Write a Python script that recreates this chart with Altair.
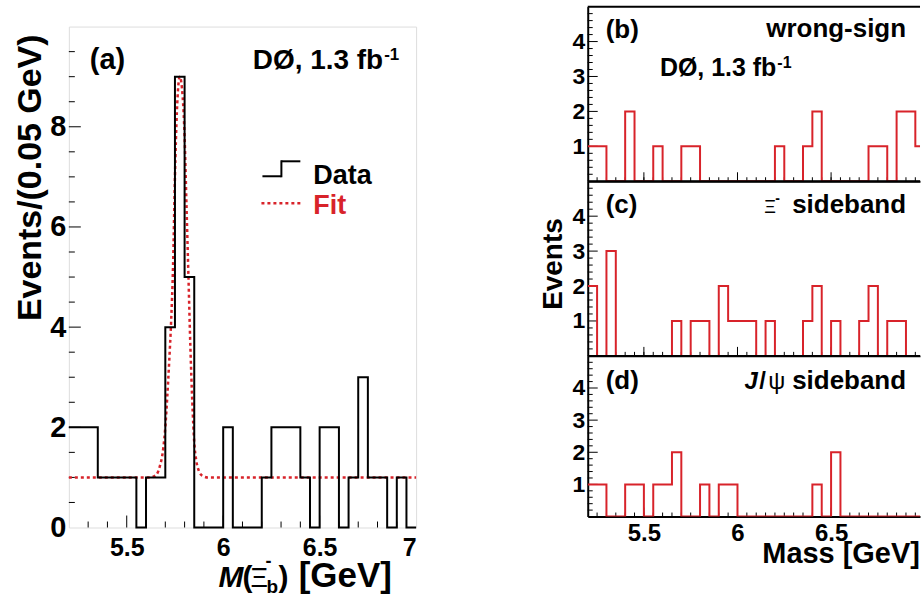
import altair as alt
import numpy as np
import pandas as pd

FONT = "Liberation Sans"
RED = "#d8232a"

# ---------------- data ----------------
bin_edges = [round(5.20 + 0.05 * i, 2) for i in range(37)]  # 5.20 ... 7.00

# (a) signal-region data, events per 0.05 GeV bin
counts_data = [2, 2, 2, 1, 1, 1, 1, 0, 1, 1, 4, 9, 5, 0, 0, 0, 2, 0,
               0, 0, 1, 2, 2, 2, 1, 0, 2, 2, 0, 1, 3, 1, 1, 0, 1, 0]
# fit curve
fit_mass = [5.20, 5.62, 5.65, 5.67, 5.69, 5.70, 5.71, 5.72, 5.73, 5.74, 5.75, 5.76,
            5.775, 5.79, 5.80, 5.81, 5.82, 5.83, 5.84, 5.85, 5.86, 5.875, 5.89, 5.92, 7.00]
fit_events = [1.0, 1.0, 1.04, 1.2, 1.6, 2.0, 2.6, 3.3, 4.1, 5.2, 7.0, 8.3,
              9.0, 8.6, 7.8, 6.4, 5.0, 3.6, 2.5, 1.7, 1.35, 1.12, 1.04, 1.0, 1.0]

# (b) wrong-sign
counts_wrong = [1, 1, 0, 0, 2, 0, 0, 1, 0, 0, 1, 1, 0, 0, 0, 0, 0, 0,
                0, 0, 1, 0, 0, 1, 2, 0, 0, 0, 0, 0, 1, 1, 0, 2, 2, 1]
# (c) Xi- sideband
counts_xi = [2, 0, 3, 0, 0, 0, 0, 0, 0, 1, 0, 1, 1, 0, 2, 1, 1, 1,
             0, 1, 0, 0, 0, 1, 2, 0, 1, 0, 0, 1, 2, 0, 1, 1, 0, 0]
# (d) J/psi sideband
counts_jpsi = [1, 1, 0, 0, 1, 1, 0, 1, 1, 2, 0, 0, 1, 0, 1, 1, 0, 0,
               0, 0, 0, 0, 0, 0, 1, 0, 2, 0, 0, 0, 0, 0, 0, 0, 0, 0]

left_xticks = [5.5, 6, 6.5, 7]
left_yticks = [0, 2, 4, 6, 8]
right_xticks = [5.5, 6, 6.5]
right_yticks = [1, 2, 3, 4]


def step_df(counts):
    return pd.DataFrame({"mass": bin_edges, "n": list(counts) + [counts[-1]]})


one = pd.DataFrame({"k": [0]})
NOFRAME = alt.ViewBackground(stroke="transparent")


def txt(text, x, y, size, color="black", weight="bold", style="normal",
        align="left", baseline="alphabetic", angle=0, font=FONT):
    kw = dict(text=text, font=font, fontSize=size, fontWeight=weight, color=color,
              align=align, baseline=baseline, fontStyle=style)
    if angle:
        kw["angle"] = angle
    return alt.Chart(one).mark_text(**kw).encode(x=alt.value(x), y=alt.value(y))


def hrule(x1, x2, y, color="black", width=2, dash=None):
    kw = dict(color=color, strokeWidth=width)
    if dash:
        kw["strokeDash"] = dash
    return alt.Chart(one).mark_rule(**kw).encode(
        x=alt.value(x1), x2=alt.value(x2), y=alt.value(y))


def vrule(x, y1, y2, color="black", width=2):
    return alt.Chart(one).mark_rule(color=color, strokeWidth=width).encode(
        x=alt.value(x), y=alt.value(y1), y2=alt.value(y2))


def xticks(vals, length, H, scale, axis):
    return alt.Chart(pd.DataFrame({"mass": vals})).mark_rule(color="black", strokeWidth=1).encode(
        x=alt.X("mass:Q", scale=scale, axis=axis), y=alt.value(H), y2=alt.value(H - length))


def yticks(vals, length, scale, axis):
    return alt.Chart(pd.DataFrame({"n": vals})).mark_rule(color="black", strokeWidth=1).encode(
        y=alt.Y("n:Q", scale=scale, axis=axis), x=alt.value(0), x2=alt.value(length))


# ---------------- left panel (a) ----------------
LW, LH = 348, 502
lx = alt.Scale(domain=[5.2, 7.0], nice=False, zero=False)
ly = alt.Scale(domain=[0, 10], nice=False)
lxaxis = alt.Axis(values=left_xticks, format="~g", ticks=False, tickSize=0, domain=False,
                  grid=False, labelFont=FONT, labelFontSize=25, labelFontWeight="bold",
                  labelColor="black", labelPadding=8, title=None)
lyaxis = alt.Axis(values=left_yticks, ticks=False, tickSize=0, domain=False, grid=False,
                  labelFont=FONT, labelFontSize=29, labelFontWeight="bold",
                  labelColor="black", labelPadding=3, title=None)

data_line = alt.Chart(step_df(counts_data)).mark_line(
    interpolate="step-after", color="black", strokeWidth=2
).encode(x=alt.X("mass:Q", scale=lx, axis=lxaxis), y=alt.Y("n:Q", scale=ly, axis=lyaxis))

fit_line = alt.Chart(pd.DataFrame({"mass": fit_mass, "n": fit_events})).mark_line(
    interpolate="monotone", color=RED, strokeWidth=2.5, strokeDash=[3, 3]
).encode(x=alt.X("mass:Q", scale=lx, axis=lxaxis), y=alt.Y("n:Q", scale=ly, axis=lyaxis))

minor_x_left = [round(v, 2) for v in np.arange(5.3, 7.0, 0.1) if abs(v * 2 - round(v * 2)) > 1e-6]
major_x_left = [5.5, 6.0, 6.5]
minor_y_left = [v for v in np.arange(0.5, 10, 0.5) if v % 2 != 0]
major_y_left = [2, 4, 6, 8]

left_layers = [
    xticks(minor_x_left, 6, LH, lx, lxaxis),
    xticks(major_x_left, 12, LH, lx, lxaxis),
    yticks(minor_y_left, 6, ly, lyaxis),
    yticks(major_y_left, 12, ly, lyaxis),
    fit_line,
    data_line,
    txt("(a)", 21, 42, 29),
    txt("DØ, 1.3 fb", 315, 43, 28, align="right"),
    txt("-1", 316, 33, 17),
    # legend
    hrule(194, 213, 150),
    vrule(213, 151, 134),
    hrule(213, 232, 135),
    hrule(193, 232, 177, color=RED, width=2.5, dash=[3, 3]),
    txt("Data", 245, 158, 27),
    txt("Fit", 245, 188, 27, color=RED),
    # y title (ROOT style, at the top end of the axis)
    txt("Events/(0.05 GeV)", -28, 8, 34, align="right", angle=270),
    # x title M(Xi_b^-) [GeV]
    txt("M", 150, 562, 30, style="italic"),
    txt("(", 174, 562, 30),
    txt("Ξ", 182, 562, 27, weight="normal"),
    txt("-", 197, 542, 18),
    txt("b", 198, 568, 19),
    txt(")", 210, 562, 30),
    txt("[GeV]", 277, 562, 35, align="center"),
]
left = alt.layer(*left_layers).properties(width=LW, height=LH)

spacer = alt.Chart(one).mark_point(opacity=0, size=1).encode(
    x=alt.value(2), y=alt.value(9)
).properties(width=LW, height=18, view=NOFRAME)

left_col = alt.vconcat(spacer, left, spacing=0)

# ---------------- right panels ----------------
RW = 333
rx = alt.Scale(domain=[5.2, 6.975], nice=False, zero=False)
ry = alt.Scale(domain=[0, 5], nice=False)
minor_x_right = [round(v, 2) for v in np.arange(5.25, 6.96, 0.05)]
major_y_right = [1, 2, 3, 4]
minor_y_right = [round(v, 1) for v in np.arange(0.2, 5.0, 0.2) if abs(v - round(v)) > 1e-6]


def right_panel(counts, H, labels, extra):
    xa = alt.Axis(values=right_xticks, format="~g", labels=labels, ticks=False, tickSize=0,
                  domain=True, domainColor="black", domainWidth=2, grid=False,
                  labelFont=FONT, labelFontSize=24, labelFontWeight="bold",
                  labelColor="black", labelPadding=5, title=None)
    ya = alt.Axis(values=right_yticks, ticks=False, tickSize=0, domain=True,
                  domainColor="black", domainWidth=2, grid=False,
                  labelFont=FONT, labelFontSize=23, labelFontWeight="bold",
                  labelColor="black", labelPadding=3, title=None)
    hist = alt.Chart(step_df(counts)).mark_line(
        interpolate="step-after", color=RED, strokeWidth=2, clip=True
    ).encode(x=alt.X("mass:Q", scale=rx, axis=xa), y=alt.Y("n:Q", scale=ry, axis=ya))
    layers = [
        xticks(minor_x_right, 4, H, rx, xa),
        xticks([5.5, 6.0, 6.5], 9, H, rx, xa),
        yticks(minor_y_right, 5, ry, ya),
        yticks(major_y_right, 10, ry, ya),
        hist,
        hrule(0, RW, 0),
    ] + extra
    return alt.layer(*layers).properties(width=RW, height=H, view=NOFRAME)


panel_b = right_panel(counts_wrong, 175, False, [
    txt("(b)", 18, 31, 26),
    txt("wrong-sign", 319, 30, 26, align="right"),
    txt("DØ, 1.3 fb", 189, 70, 25, align="right"),
    txt("-1", 190, 61, 16),
])
panel_c = right_panel(counts_xi, 175, False, [
    txt("(c)", 18, 32, 26),
    txt("Ξ", 177, 32, 18, weight="normal"),
    txt("-", 188, 22, 14),
    txt("sideband", 319, 32, 26, align="right"),
    txt("Events", -26, 83, 28, align="center", angle=270),
])
panel_d = right_panel(counts_jpsi, 161, True, [
    txt("(d)", 18, 33, 26),
    txt("J", 157, 33, 24, style="italic"),
    txt("/", 172, 33, 24),
    txt("ψ", 181, 33, 24, weight="normal"),
    txt("sideband", 319, 33, 26, align="right"),
    txt("Mass [GeV]", 175, 208, 29),
])

right_col = alt.vconcat(panel_b, panel_c, panel_d, spacing=0, bounds="flush")

chart = alt.hconcat(left_col, right_col, spacing=117).properties(
    padding={"left": 13, "top": 4, "right": 0, "bottom": 0}
).configure_view(stroke="black", strokeWidth=2).configure(background="white")

chart.save("out.html", embed_options={"renderer": "svg", "actions": False})
